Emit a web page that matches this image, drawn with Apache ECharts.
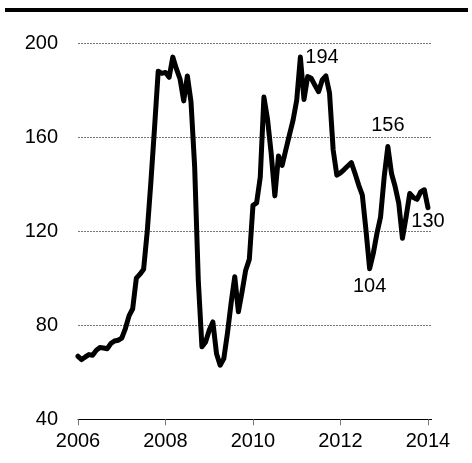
<!DOCTYPE html>
<html>
<head>
<meta charset="utf-8">
<script src="https://cdn.jsdelivr.net/npm/echarts@6/dist/echarts.min.js"></script>
<style>
  html, body { margin: 0; padding: 0; background: #fff; }
  #chart { width: 472px; height: 463px; }
</style>
</head>
<body>
<div id="chart"></div>
<script>
// Monthly index, January 2006 to January 2014
const startYear = 2006;
const values = [
  66.8, 65.4, 66.5, 67.5, 67.2, 69.3, 70.5, 70.3, 70.0, 72.2, 73.3, 73.6,
  74.5, 78.6, 84.0, 87.0, 100.0, 101.7, 103.8, 120.0, 141.0, 164.0, 188.0, 187.1,
  187.5, 185.4, 194.0, 189.0, 184.7, 175.4, 186.0, 175.0, 147.4, 99.1, 70.8, 72.9,
  77.9, 81.4, 67.9, 63.0, 65.8, 76.6, 89.4, 100.6, 85.7, 94.2, 103.4, 108.0,
  131.0, 132.0, 143.0, 177.0, 167.5, 153.0, 135.0, 152.0, 148.0, 154.5, 160.9, 167.2,
  175.7, 194.0, 176.0, 185.7, 185.0, 182.0, 179.3, 184.3, 186.0, 178.7, 154.5, 143.8,
  144.8, 146.2, 147.7, 149.1, 144.5, 139.6, 135.3, 120.4, 104.0, 110.5, 119.0, 126.0,
  143.1, 156.0, 144.5, 138.9, 131.8, 117.0, 126.0, 136.0, 134.3, 133.5, 136.7, 137.6,
  130.0
];
const yearTicks = [2006, 2008, 2010, 2012, 2014];
const valueTicks = [40, 80, 120, 160, 200];
// months whose values are printed next to the line
const labelled = [61, 80, 85, 96];
const labelPlacement = { 61: ['right', 5], 80: ['bottom', 8], 85: ['top', 11], 96: ['bottom', 4] };

const font = 'Liberation Sans, Arial, sans-serif';

const points = values.map((v, i) => {
  const item = { value: [startYear + i / 12, v] };
  if (labelled.includes(i)) {
    const [pos, dist] = labelPlacement[i];
    item.label = { show: true, position: pos, distance: dist };
  }
  return item;
});

const chart = echarts.init(document.getElementById('chart'), null, { renderer: 'canvas' });
chart.setOption({
  animation: false,
  backgroundColor: '#fff',
  graphic: [{
    type: 'rect', left: 5, top: 8,
    shape: { width: 463, height: 4 },
    style: { fill: '#000' }
  }],
  grid: { left: 78, right: 40.4, top: 43, bottom: 43.7, containLabel: false },
  xAxis: {
    type: 'value',
    min: yearTicks[0],
    max: yearTicks[yearTicks.length - 1] + 1 / 12,
    interval: 2,
    splitLine: { show: false },
    axisLine: { show: true, lineStyle: { color: '#000', width: 1 } },
    axisTick: { show: true, length: 6, lineStyle: { color: '#777' }, customValues: yearTicks },
    axisLabel: {
      color: '#000', fontSize: 20, fontFamily: font, margin: 12,
      customValues: yearTicks, formatter: v => String(v)
    }
  },
  yAxis: {
    type: 'value',
    min: valueTicks[0],
    max: valueTicks[valueTicks.length - 1],
    interval: 40,
    axisLine: { show: false },
    axisTick: { show: false },
    axisLabel: { color: '#000', fontSize: 20, fontFamily: font, margin: 20 },
    splitLine: { show: true, lineStyle: { color: '#777', type: [2, 1], width: 1 } }
  },
  series: [{
    type: 'line',
    data: points,
    symbol: 'circle',
    symbolSize: 0,
    showSymbol: true,
    lineStyle: { color: '#000', width: 5, join: 'round', cap: 'round' },
    itemStyle: { color: '#000' },
    label: {
      show: false, color: '#000', fontSize: 20, fontFamily: font,
      formatter: p => Math.round(p.value[1])
    },
    z: 3
  }]
});
</script>
</body>
</html>
